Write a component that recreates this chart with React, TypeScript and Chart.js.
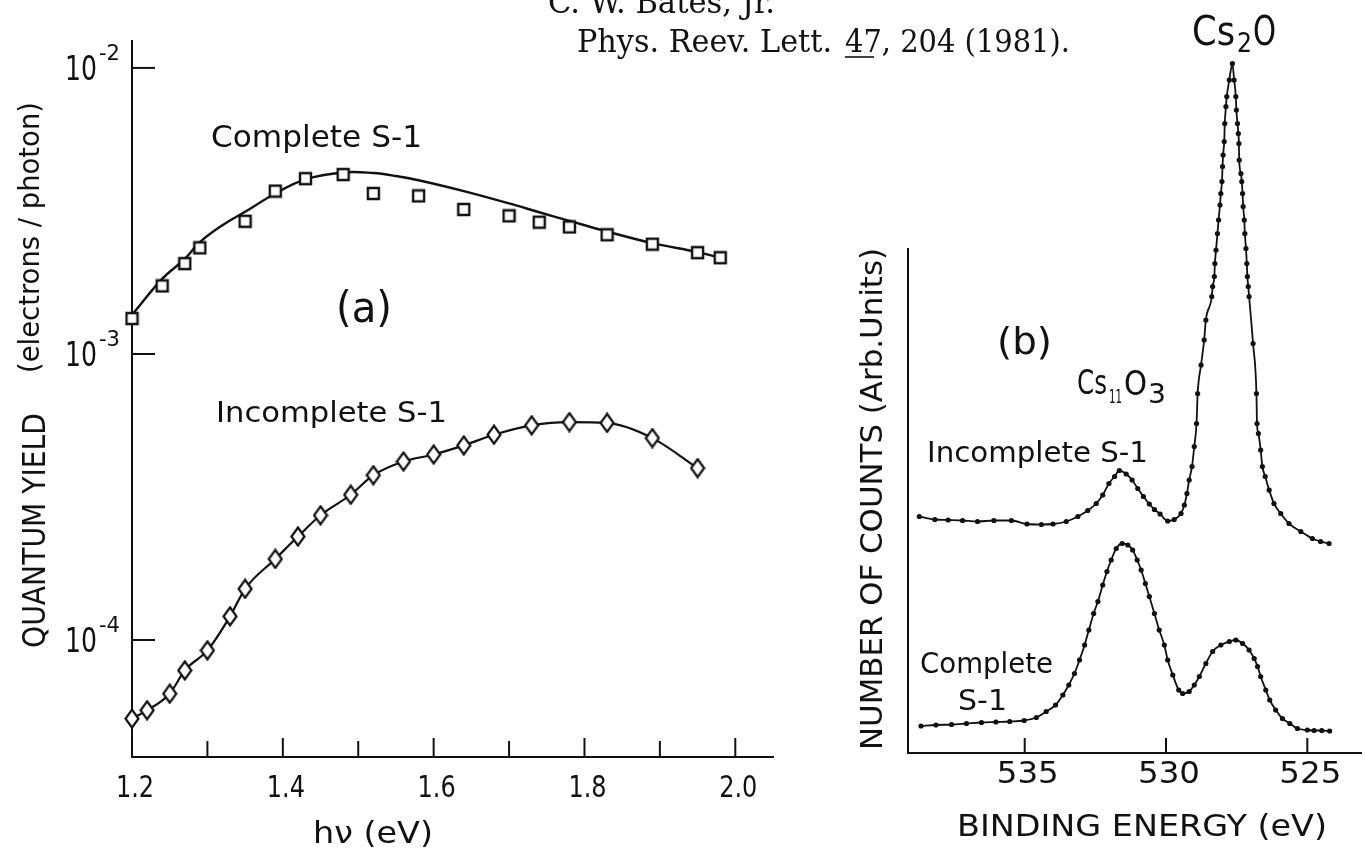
import React, { useEffect, useRef } from "react";
import { Chart, registerables } from "chart.js";

Chart.register(...registerables);

const PAGE_W = 1365;
const PAGE_H = 854;
const INK = "#111";
const SANS = '"DejaVu Sans", "Liberation Sans", sans-serif';
const SERIF = '"DejaVu Serif", "Liberation Serif", serif';

// ---- (a) Quantum yield vs photon energy ----
const completeEnergy = [1.20, 1.24, 1.27, 1.29, 1.35, 1.39, 1.43, 1.48, 1.52, 1.58, 1.64, 1.70, 1.74, 1.78, 1.83, 1.89, 1.95, 1.98];
const completeYield = [1.33e-3, 1.73e-3, 2.07e-3, 2.35e-3, 2.91e-3, 3.71e-3, 4.10e-3, 4.24e-3, 3.64e-3, 3.57e-3, 3.20e-3, 3.04e-3, 2.89e-3, 2.78e-3, 2.61e-3, 2.42e-3, 2.26e-3, 2.17e-3];

const completeFitEnergy = [1.20, 1.24, 1.27, 1.29, 1.32, 1.35, 1.39, 1.43, 1.48, 1.52, 1.55, 1.58, 1.64, 1.70, 1.74, 1.78, 1.83, 1.89, 1.95, 1.98];
const completeFitYield = [1.37e-3, 1.83e-3, 2.15e-3, 2.46e-3, 2.82e-3, 3.14e-3, 3.64e-3, 4.08e-3, 4.31e-3, 4.29e-3, 4.19e-3, 4.05e-3, 3.71e-3, 3.36e-3, 3.13e-3, 2.92e-3, 2.68e-3, 2.44e-3, 2.27e-3, 2.17e-3];

const incompleteEnergy = [1.20, 1.22, 1.25, 1.27, 1.30, 1.33, 1.35, 1.39, 1.42, 1.45, 1.49, 1.52, 1.56, 1.60, 1.64, 1.68, 1.73, 1.78, 1.83, 1.89, 1.95];
const incompleteYield = [5.31e-5, 5.68e-5, 6.49e-5, 7.83e-5, 9.20e-5, 1.21e-4, 1.51e-4, 1.92e-4, 2.30e-4, 2.73e-4, 3.22e-4, 3.77e-4, 4.21e-4, 4.45e-4, 4.79e-4, 5.22e-4, 5.63e-4, 5.78e-4, 5.74e-4, 5.08e-4, 3.99e-4];

const hvTickValues = [1.2, 1.4, 1.6, 1.8, 2.0];
const hvTickLabels = ["1.2", "1.4", "1.6", "1.8", "2.0"];
const hvMinorTickValues = [1.3, 1.5, 1.7, 1.9];
const yieldDecades = [1e-2, 1e-3, 1e-4];
const yieldExponents = ["-2", "-3", "-4"];

// ---- (b) O 1s photoelectron spectra ----
const incompleteBE = [538.73, 538.18, 537.71, 537.20, 536.67, 536.09, 535.47, 534.92, 534.41, 534.00, 533.53, 533.12, 532.77, 532.47, 532.24, 532.02, 531.82, 531.65, 531.41, 531.20, 531.00, 530.80, 530.59, 530.41, 530.21, 529.94, 529.71, 529.47, 529.35, 529.26, 529.18, 529.08, 529.00, 528.92, 528.88, 528.76, 528.65, 528.59, 528.38, 528.35, 528.29, 528.27, 528.23, 528.18, 528.14, 528.09, 528.06, 528.02, 528.00, 527.98, 527.94, 527.92, 527.88, 527.85, 527.76, 527.65, 527.59, 527.53, 527.51, 527.47, 527.44, 527.42, 527.41, 527.35, 527.32, 527.29, 527.27, 527.23, 527.21, 527.17, 527.14, 527.12, 527.09, 527.06, 526.92, 526.80, 526.78, 526.73, 526.65, 526.59, 526.49, 526.35, 526.18, 525.94, 525.65, 525.23, 524.82, 524.53, 524.23];
const incompleteCounts = [47.3, 46.7, 46.6, 46.5, 46.3, 46.5, 46.5, 45.8, 45.7, 45.8, 46.3, 47.3, 48.5, 49.9, 51.6, 53.9, 55.3, 56.5, 55.8, 54.6, 52.9, 51.3, 49.8, 48.7, 47.8, 46.4, 46.7, 47.9, 49.6, 51.9, 54.6, 57.3, 61.3, 65.9, 71.9, 77.6, 82.6, 86.6, 91.3, 93.3, 95.3, 97.9, 100.6, 103.9, 106.6, 109.6, 111.9, 114.3, 117.3, 119.6, 122.3, 125.9, 129.3, 131.3, 134.6, 137.9, 134.6, 131.3, 128.6, 125.9, 123.9, 121.9, 118.6, 115.9, 114.3, 111.9, 109.3, 106.6, 103.9, 100.9, 97.9, 95.3, 93.3, 91.3, 81.9, 71.9, 65.9, 63.9, 60.6, 57.3, 55.3, 52.6, 49.9, 47.9, 45.9, 44.3, 42.9, 42.3, 41.9];

const completeBE = [538.67, 538.14, 537.59, 537.06, 536.53, 536.02, 535.53, 535.02, 534.59, 534.24, 533.91, 533.65, 533.44, 533.24, 533.06, 532.88, 532.73, 532.56, 532.41, 532.24, 532.09, 531.94, 531.76, 531.55, 531.35, 531.18, 531.02, 530.88, 530.73, 530.59, 530.41, 530.24, 530.06, 529.94, 529.76, 529.55, 529.41, 529.18, 529.00, 528.82, 528.59, 528.35, 528.06, 527.76, 527.53, 527.29, 527.06, 526.88, 526.76, 526.65, 526.47, 526.33, 526.12, 525.88, 525.62, 525.35, 525.00, 524.76, 524.49, 524.21];
const completeCounts = [5.4, 5.6, 5.7, 5.9, 6.1, 6.2, 6.3, 6.5, 7.1, 8.3, 9.6, 11.6, 13.6, 15.9, 18.6, 21.6, 24.6, 27.9, 30.3, 33.6, 36.3, 38.6, 40.9, 41.9, 41.6, 40.6, 38.6, 36.6, 33.9, 31.3, 27.9, 24.6, 21.6, 18.6, 15.6, 12.6, 11.9, 12.3, 13.6, 15.3, 17.9, 20.3, 21.6, 22.3, 22.6, 21.9, 20.6, 18.9, 17.3, 15.3, 12.6, 10.6, 8.6, 6.9, 5.9, 4.9, 4.6, 4.5, 4.5, 4.4];

const beTickValues = [535, 530, 525];
const beTickLabels = ["535", "530", "525"];
const countsAxisTop = 101;

type TextOpts = {
  size: number;
  family?: string;
  align?: "left" | "center" | "right";
  width?: number;
  sx?: number;
  rotate?: number;
};

function drawText(ctx: CanvasRenderingContext2D, s: string, x: number, y: number, o: TextOpts) {
  ctx.save();
  ctx.font = `${o.size}px ${o.family ?? SANS}`;
  const w = ctx.measureText(s).width;
  const sx = o.width ? o.width / w : o.sx ?? 1;
  ctx.translate(x, y);
  if (o.rotate) ctx.rotate(o.rotate);
  ctx.scale(sx, 1);
  const off = o.align === "center" ? -w / 2 : o.align === "right" ? -w : 0;
  ctx.textAlign = "left";
  ctx.textBaseline = "alphabetic";
  ctx.fillStyle = INK;
  ctx.fillText(s, off, 0);
  ctx.restore();
}

function seg(ctx: CanvasRenderingContext2D, x: number, y: number, dx: number, dy: number) {
  ctx.beginPath();
  ctx.moveTo(x, y);
  ctx.lineTo(x + dx, y + dy);
  ctx.stroke();
}

function makeSquareMarker() {
  const c = document.createElement("canvas");
  c.width = 15;
  c.height = 15;
  const g = c.getContext("2d")!;
  g.fillStyle = "#fff";
  g.strokeStyle = INK;
  g.lineWidth = 2.4;
  g.beginPath();
  g.rect(2, 2, 11, 11);
  g.fill();
  g.stroke();
  return c;
}

function makeDiamondMarker() {
  const c = document.createElement("canvas");
  c.width = 16;
  c.height = 21;
  const g = c.getContext("2d")!;
  g.fillStyle = "#fff";
  g.strokeStyle = INK;
  g.lineWidth = 2.2;
  g.beginPath();
  g.moveTo(8, 1.5);
  g.lineTo(14.5, 10.5);
  g.lineTo(8, 19.5);
  g.lineTo(1.5, 10.5);
  g.closePath();
  g.fill();
  g.stroke();
  return c;
}

const panelADecor = {
  id: "panelADecor",
  afterDraw(chart: any) {
    const ctx: CanvasRenderingContext2D = chart.ctx;
    const xs = chart.scales.x;
    const ys = chart.scales.y;
    const { left, bottom } = chart.chartArea;
    ctx.save();
    ctx.strokeStyle = INK;
    ctx.lineWidth = 2;
    hvTickValues.forEach((v) => seg(ctx, xs.getPixelForValue(v), bottom, 0, -19));
    hvMinorTickValues.forEach((v) => seg(ctx, xs.getPixelForValue(v), bottom, 0, -16));
    yieldDecades.forEach((v) => seg(ctx, left, ys.getPixelForValue(v), 23, 0));

    hvTickValues.forEach((v, i) =>
      drawText(ctx, hvTickLabels[i], xs.getPixelForValue(v) + 3, bottom + 40, { size: 30, align: "center", sx: 0.8 })
    );
    yieldDecades.forEach((v, i) => {
      const py = ys.getPixelForValue(v);
      drawText(ctx, "10", left - 35, py + 12, { size: 34, align: "right", width: 32 });
      drawText(ctx, yieldExponents[i], left - 33, py - 8, { size: 22, width: 21 });
    });

    drawText(ctx, "hν (eV)", 313, 843, { size: 30, width: 120 });
    drawText(ctx, "QUANTUM YIELD", 45, 648, { size: 32, width: 235, rotate: -Math.PI / 2 });
    drawText(ctx, "(electrons / photon)", 39, 373, { size: 29, width: 271, rotate: -Math.PI / 2 });

    drawText(ctx, "Complete S-1", 211, 147, { size: 30, width: 211 });
    drawText(ctx, "(a)", 336, 322, { size: 42, width: 56 });
    drawText(ctx, "Incomplete S-1", 216, 422, { size: 28, width: 231 });

    drawText(ctx, "C. W. Bates, Jr.", 548, 13, { size: 31, family: SERIF, width: 227 });
    drawText(ctx, "Phys. Reev. Lett.", 577, 52, { size: 31, family: SERIF, width: 255 });
    drawText(ctx, "47, 204 (1981).", 845, 52, { size: 31, family: SERIF, width: 225 });
    ctx.lineWidth = 1.6;
    seg(ctx, 845, 57, 29, 0);
    ctx.restore();
  },
};

const panelBDecor = {
  id: "panelBDecor",
  afterDraw(chart: any) {
    const ctx: CanvasRenderingContext2D = chart.ctx;
    const xs = chart.scales.x;
    const ys = chart.scales.y;
    const { left, bottom } = chart.chartArea;
    ctx.save();
    ctx.strokeStyle = INK;
    ctx.lineWidth = 2;
    const y0 = ys.getPixelForValue(0);
    const y1 = ys.getPixelForValue(countsAxisTop);
    seg(ctx, left, y0 + 1, 0, y1 - y0 - 1);
    beTickValues.forEach((v) => seg(ctx, xs.getPixelForValue(v), bottom, 0, -15));

    beTickValues.forEach((v, i) =>
      drawText(ctx, beTickLabels[i], xs.getPixelForValue(v) + 3, bottom + 30, { size: 30, align: "center", width: 62 })
    );
    drawText(ctx, "BINDING ENERGY (eV)", 957, 836, { size: 31, width: 370 });
    drawText(ctx, "NUMBER OF COUNTS (Arb.Units)", 882, 750, { size: 30, width: 502, rotate: -Math.PI / 2 });

    drawText(ctx, "(b)", 997, 354, { size: 38, width: 55 });
    drawText(ctx, "Incomplete S-1", 927, 462, { size: 29, width: 221 });
    drawText(ctx, "Complete", 920, 673, { size: 29, width: 133 });
    drawText(ctx, "S-1", 958, 710, { size: 29, width: 49 });

    drawText(ctx, "Cs", 1077, 394, { size: 34, width: 30 });
    drawText(ctx, "11", 1109, 403, { size: 20, width: 13 });
    drawText(ctx, "O", 1124, 395, { size: 34, width: 23 });
    drawText(ctx, "3", 1148, 403, { size: 26, width: 18 });

    drawText(ctx, "Cs", 1192, 45, { size: 41, width: 43 });
    drawText(ctx, "2", 1237, 52, { size: 26, width: 15 });
    drawText(ctx, "O", 1253, 45, { size: 41, width: 23 });
    ctx.restore();
  },
};

const hiddenAxis = (extra: any) => ({
  ticks: { display: false },
  grid: { display: false, drawTicks: false },
  ...extra,
});

export default function App() {
  const leftRef = useRef<HTMLCanvasElement>(null);
  const rightRef = useRef<HTMLCanvasElement>(null);

  useEffect(() => {
    const square = makeSquareMarker();
    const diamond = makeDiamondMarker();

    const left = new Chart(leftRef.current!, {
      type: "scatter",
      data: {
        datasets: [
          {
            label: "Incomplete S-1",
            data: incompleteEnergy.map((x, i) => ({ x, y: incompleteYield[i] })),
            showLine: true,
            borderColor: INK,
            borderWidth: 2.2,
            cubicInterpolationMode: "monotone",
            pointStyle: diamond as any,
            pointRadius: 7,
            clip: false,
            order: 0,
          },
          {
            label: "Complete S-1",
            data: completeEnergy.map((x, i) => ({ x, y: completeYield[i] })),
            showLine: false,
            pointStyle: square as any,
            pointRadius: 7,
            clip: false,
            order: 0,
          },
          {
            label: "Complete S-1 fit",
            data: completeFitEnergy.map((x, i) => ({ x, y: completeFitYield[i] })),
            showLine: true,
            borderColor: INK,
            borderWidth: 2.4,
            tension: 0.4,
            pointRadius: 0,
            clip: false,
            order: 1,
          },
        ],
      },
      options: {
        responsive: false,
        animation: false,
        devicePixelRatio: 1,
        events: [],
        layout: { padding: { left: 132, top: 41, right: PAGE_W - 773, bottom: PAGE_H - 757 } },
        plugins: { legend: { display: false }, tooltip: { enabled: false } },
        scales: {
          x: hiddenAxis({
            type: "linear",
            min: 1.2,
            max: 2.05,
            border: { display: true, color: INK, width: 2 },
            afterFit: (s: any) => {
              s.height = 0;
            },
          }),
          y: hiddenAxis({
            type: "logarithmic",
            min: 3.9e-5,
            max: 1.242e-2,
            border: { display: true, color: INK, width: 2 },
            afterFit: (s: any) => {
              s.width = 0;
            },
          }),
        },
      } as any,
      plugins: [panelADecor],
    });

    const spectrum = (label: string, be: number[], counts: number[]) => ({
      label,
      data: be.map((x, i) => ({ x, y: counts[i] })),
      showLine: true,
      borderColor: INK,
      borderWidth: 1.8,
      cubicInterpolationMode: "monotone",
      pointStyle: "circle",
      pointRadius: 2.6,
      pointBorderWidth: 0,
      pointBackgroundColor: INK,
      clip: false,
    });

    const right = new Chart(rightRef.current!, {
      type: "scatter",
      data: {
        datasets: [
          spectrum("Incomplete S-1", incompleteBE, incompleteCounts),
          spectrum("Complete S-1", completeBE, completeCounts),
        ] as any,
      },
      options: {
        responsive: false,
        animation: false,
        devicePixelRatio: 1,
        events: [],
        layout: { padding: { left: 908, top: 40, right: PAGE_W - 1362, bottom: PAGE_H - 753 } },
        plugins: { legend: { display: false }, tooltip: { enabled: false } },
        scales: {
          x: hiddenAxis({
            type: "linear",
            reverse: true,
            min: 523.1,
            max: 539.13,
            border: { display: true, color: INK, width: 2 },
            afterFit: (s: any) => {
              s.height = 0;
            },
          }),
          y: hiddenAxis({
            type: "linear",
            min: 0,
            max: 142.6,
            border: { display: false },
            afterFit: (s: any) => {
              s.width = 0;
            },
          }),
        },
      } as any,
      plugins: [panelBDecor],
    });

    return () => {
      left.destroy();
      right.destroy();
    };
  }, []);

  return (
    <div
      style={{
        position: "absolute",
        left: 0,
        top: 0,
        width: PAGE_W,
        height: PAGE_H,
        background: "#fff",
        overflow: "hidden",
      }}
    >
      <canvas ref={leftRef} width={PAGE_W} height={PAGE_H} style={{ position: "absolute", left: 0, top: 0 }} />
      <canvas ref={rightRef} width={PAGE_W} height={PAGE_H} style={{ position: "absolute", left: 0, top: 0 }} />
    </div>
  );
}
